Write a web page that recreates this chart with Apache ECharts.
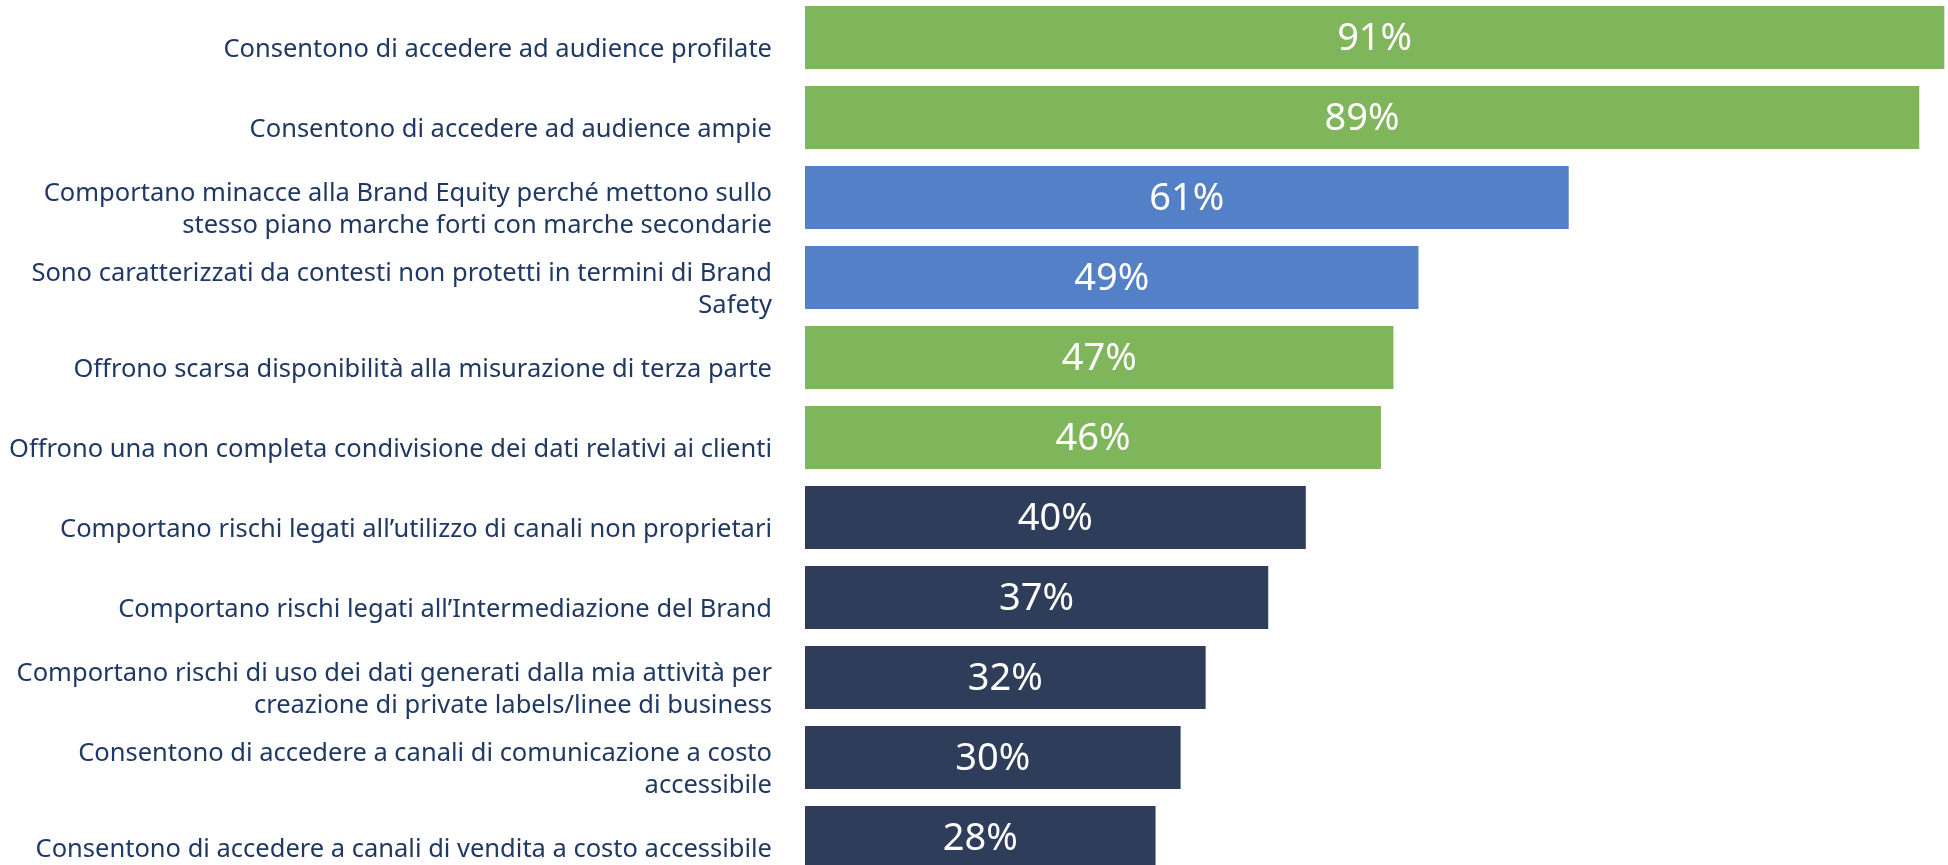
<!DOCTYPE html>
<html>
<head>
<meta charset="utf-8">
<script src="https://cdn.jsdelivr.net/npm/echarts@6/dist/echarts.min.js"></script>
<style>
  html, body { margin: 0; padding: 0; background: #fff; }
  #main { width: 1948px; height: 865px; }
</style>
</head>
<body>
<div id="main"></div>
<script>
// dati (dall'alto verso il basso)
var categories = [
  'Consentono di accedere ad audience profilate',
  'Consentono di accedere ad audience ampie',
  'Comportano minacce alla Brand Equity perché mettono sullo\nstesso piano marche forti con marche secondarie',
  'Sono caratterizzati da contesti non protetti in termini di Brand\nSafety',
  'Offrono scarsa disponibilità alla misurazione di terza parte',
  'Offrono una non completa condivisione dei dati relativi ai clienti',
  'Comportano rischi legati all\u2019utilizzo di canali non proprietari',
  'Comportano rischi legati all\u2019Intermediazione del Brand',
  'Comportano rischi di uso dei dati generati dalla mia attività per\ncreazione di private labels/linee di business',
  'Consentono di accedere a canali di comunicazione a costo\naccessibile',
  'Consentono di accedere a canali di vendita a costo accessibile'
]
var values = [91, 89, 61, 49, 47, 46, 40, 37, 32, 30, 28]
var groups = ['verde', 'verde', 'blu', 'blu', 'verde', 'verde', 'scuro', 'scuro', 'scuro', 'scuro', 'scuro']

var groupColor = {
  verde: '#7FB55B',
  blu: '#5480C8',
  scuro: '#2E3D5A'
}

var myChart = echarts.init(document.getElementById('main'))

var data = []
for (let i = 0; i < values.length; i++) {
  data.push({
    value: values[i],
    itemStyle: { color: groupColor[groups[i]] }
  })
}

// le etichette stanno un po' più in basso delle barre: secondo grid spostato
var option = {
  backgroundColor: '#ffffff',
  animation: false,
  grid: [
    { left: 805, top: -2.5, width: 1252, height: 880, outerBoundsMode: 'none' },
    { left: 805, top: 9.5, width: 1252, height: 880, outerBoundsMode: 'none' }
  ],
  xAxis: [
    { type: 'value', gridIndex: 0, min: 0, max: 100, show: false },
    { type: 'value', gridIndex: 1, min: 0, max: 100, show: false }
  ],
  yAxis: [
    {
      type: 'category',
      gridIndex: 0,
      inverse: true,
      data: categories,
      axisLine: { show: false },
      axisTick: { show: false },
      splitLine: { show: false },
      axisLabel: { show: false }
    },
    {
      type: 'category',
      gridIndex: 1,
      inverse: true,
      data: categories,
      axisLine: { show: false },
      axisTick: { show: false },
      splitLine: { show: false },
      axisLabel: {
        margin: 33,
        color: '#1F3864',
        fontFamily: 'Noto Sans',
        fontSize: 25.5,
        lineHeight: 32,
        align: 'right'
      }
    }
  ],
  series: [
    {
      type: 'bar',
      xAxisIndex: 0,
      yAxisIndex: 0,
      barWidth: 63,
      data: data,
      label: {
        show: true,
        position: 'inside',
        offset: [0, 2],
        color: '#ffffff',
        fontFamily: 'Noto Sans',
        fontSize: 38,
        formatter: '{c}%'
      }
    }
  ]
}

myChart.setOption(option)
</script>
</body>
</html>
